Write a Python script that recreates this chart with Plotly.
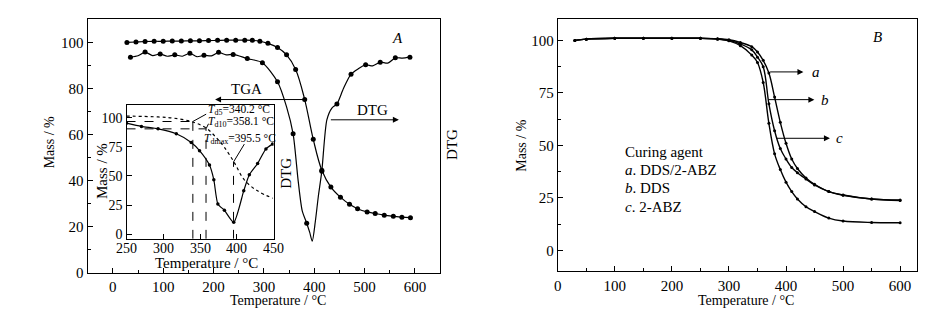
import plotly.graph_objects as go

FONT = "Liberation Serif"

# ---------------- Panel A (main) ----------------
tga_x = [28, 46, 64, 82, 100, 118, 136, 154, 172, 190, 208, 226, 244, 262, 277, 292, 308, 327, 345, 363, 381, 398, 415, 433, 452, 470, 486, 505, 521, 539, 557, 574, 591]
tga_y = [100.0, 100.2, 100.4, 100.5, 100.5, 100.6, 100.6, 100.7, 100.7, 100.8, 100.9, 101.0, 101.0, 101.0, 100.9, 100.5, 99.6, 97.8, 94.6, 88.3, 75.2, 57.9, 44.5, 37.2, 32.8, 29.7, 27.8, 26.4, 25.7, 25.0, 24.5, 24.1, 23.9]

dtg_mk_x = [35, 64, 94, 123, 153, 181, 210, 239, 267, 297, 327, 358, 385, 415, 445, 473, 502, 531, 561, 590]
dtg_mk_y = [93.6, 95.8, 95.0, 94.6, 95.3, 94.4, 95.7, 94.8, 93.0, 91.2, 82.9, 60.3, 21.5, 44.1, 73.3, 86.2, 90.3, 91.4, 93.3, 93.6]

dtg_line_x = [35, 50, 64, 79, 94, 108, 123, 138, 153, 167, 181, 196, 210, 225, 239, 267, 297, 327, 345, 358, 368, 376, 385, 391, 396, 402, 408, 415, 425, 435, 445, 458, 473, 487, 502, 516, 531, 546, 561, 575, 590]
dtg_line_y = [93.6, 94.2, 95.8, 94.3, 95.0, 94.0, 94.6, 94.0, 95.3, 93.8, 94.4, 94.2, 95.7, 94.6, 94.8, 93.0, 91.2, 82.9, 72.0, 60.3, 40.0, 27.0, 21.5, 17.5, 13.7, 22.0, 33.0, 44.1, 66.4, 71.5, 73.3, 80.0, 86.2, 88.5, 90.3, 89.8, 91.4, 91.0, 93.3, 93.2, 93.6]

# ---------------- Inset ----------------
ins_tga_x = [250, 293, 315, 338, 358, 374, 383, 396, 410, 428, 449]
ins_tga_y = [101.4, 100.6, 99.5, 96.7, 91.2, 81.5, 74.6, 62.1, 46.8, 37.2, 30.8]

ins_dtg_x = [250, 270.3, 292.9, 317.7, 338, 349.3, 362.8, 368.7, 374.2, 383.1, 395.8, 409.4, 417, 428.3, 439.6, 448.6]
ins_dtg_y = [95.3, 92.5, 90.4, 86.2, 78.7, 71.7, 59.3, 46.8, 26.0, 20.5, 10.2, 37.2, 51.0, 60.7, 73.2, 77.3]

ins_xticks = [250, 300, 350, 400, 450]

td_temps = [340.2, 358.1, 395.5]
td_mass = [96.7, 90.4, 62.0]
td_labels = ["<i>T</i><sub>d5</sub>=340.2 °C", "<i>T</i><sub>d10</sub>=358.1 °C", "<i>T</i><sub>dmax</sub>=395.5 °C"]

# ---------------- Panel B ----------------
b_x = [30, 50, 100, 150, 200, 250, 280, 300, 320, 340, 350, 360, 370, 380, 390, 400, 410, 420, 435, 450, 475, 500, 550, 600]
b_a = [100, 100.6, 101, 101, 101, 101, 100.8, 100.3, 99.0, 97.0, 94.5, 90.5, 84.5, 73.0, 61.0, 51.0, 43.5, 39.0, 34.5, 31.5, 28.0, 26.3, 24.5, 24.0]
b_b = [100, 100.6, 101, 101, 101, 101, 100.7, 100.0, 98.3, 95.5, 92.0, 87.5, 69.8, 57.0, 48.5, 43.5, 39.5, 37.0, 34.0, 31.2, 28.0, 26.4, 24.5, 23.8]
b_c = [100, 100.6, 101, 101, 101, 101, 100.6, 99.8, 97.5, 93.0, 89.5, 80.0, 60.5, 46.0, 38.5, 32.5, 28.0, 24.5, 20.8, 18.5, 15.4, 14.0, 13.3, 13.2]
b_names = ["a", "b", "c"]
legend_lines = ["Curing agent", "<i>a</i>. DDS/2-ABZ", "<i>b</i>. DDS", "<i>c</i>. 2-ABZ"]

fig = go.Figure()
blk = "black"

# Panel A traces
fig.add_trace(go.Scatter(x=tga_x, y=tga_y, mode="lines+markers", line=dict(color=blk, width=1.2, shape="spline"),
                         marker=dict(size=5, color=blk), xaxis="x", yaxis="y", showlegend=False))
fig.add_trace(go.Scatter(x=dtg_line_x, y=dtg_line_y, mode="lines", line=dict(color=blk, width=1.2, shape="spline", smoothing=0.7),
                         xaxis="x", yaxis="y", showlegend=False))
fig.add_trace(go.Scatter(x=dtg_mk_x, y=dtg_mk_y, mode="markers", marker=dict(size=5, color=blk),
                         xaxis="x", yaxis="y", showlegend=False))

# Inset traces
fig.add_trace(go.Scatter(x=ins_tga_x, y=ins_tga_y, mode="lines", line=dict(color=blk, width=1.2, dash="dot", shape="spline"),
                         xaxis="x3", yaxis="y3", showlegend=False))
fig.add_trace(go.Scatter(x=ins_dtg_x, y=ins_dtg_y, mode="lines+markers", line=dict(color=blk, width=1.2, shape="spline", smoothing=0.6),
                         marker=dict(size=3.5, color=blk), xaxis="x3", yaxis="y3", showlegend=False))

# Panel B traces
for ys in (b_a, b_b, b_c):
    fig.add_trace(go.Scatter(x=b_x, y=ys, mode="lines+markers", line=dict(color=blk, width=1.4, shape="spline"),
                             marker=dict(size=3, color=blk), xaxis="x2", yaxis="y2", showlegend=False))

tickfont = dict(family=FONT, size=15, color=blk)
axcommon = dict(showline=True, linecolor=blk, linewidth=1.2, mirror=True, ticks="inside", tickcolor=blk,
                ticklen=5, showgrid=False, zeroline=False, tickfont=tickfont)

fig.update_layout(
    width=945, height=325, margin=dict(l=0, r=0, t=0, b=0),
    paper_bgcolor="white", plot_bgcolor="white",
    xaxis=dict(axcommon, domain=[0.0804, 0.455], range=[-50, 650], tickvals=[0, 100, 200, 300, 400, 500, 600],
               minor=dict(ticks="inside", tickvals=[50, 150, 250, 350, 450, 550], ticklen=3, tickcolor=blk), anchor="y"),
    yaxis=dict(axcommon, domain=[0.165, 0.964], range=[0, 110], tickvals=[0, 20, 40, 60, 80, 100],
               minor=dict(ticks="inside", tickvals=[10, 30, 50, 70, 90], ticklen=3, tickcolor=blk), anchor="x"),
    xaxis2=dict(axcommon, domain=[0.580, 0.962], range=[0, 630], tickvals=[0, 100, 200, 300, 400, 500, 600],
                minor=dict(ticks="inside", tickvals=[50, 150, 250, 350, 450, 550], ticklen=3, tickcolor=blk), anchor="y2"),
    yaxis2=dict(axcommon, domain=[0.169, 0.964], range=[-10, 110], tickvals=[0, 25, 50, 75, 100],
                minor=dict(ticks="inside", tickvals=[12.5, 37.5, 62.5, 87.5], ticklen=3, tickcolor=blk), anchor="x2"),
    xaxis3=dict(axcommon, domain=[0.1217, 0.278], range=[250, 450], tickvals=ins_xticks, showticklabels=False, anchor="y3"),
    yaxis3=dict(axcommon, domain=[0.2717, 0.6945], range=[-4, 111], tickvals=[0, 25, 50, 75, 100],
                tickfont=dict(family=FONT, size=14, color=blk), anchor="x3"),
)

ann = []
def txt(text, x, y, xref, yref, size=14, angle=0, xanchor="center", yanchor="middle"):
    ann.append(dict(text=text, x=x, y=y, xref=xref, yref=yref, showarrow=False, textangle=angle,
                    xanchor=xanchor, yanchor=yanchor, font=dict(family=FONT, size=size, color=blk)))

def arrow(x0, y0, x1, y1, xr, yr):
    ann.append(dict(x=x1, y=y1, ax=x0, ay=y0, xref=xr, yref=yr, axref=xr, ayref=yr, text="",
                    showarrow=True, arrowhead=2, arrowsize=1.2, arrowwidth=1, arrowcolor=blk))

# Axis titles
txt("Temperature / °C", 0.2825, 0.077, "paper", "paper")
txt("Mass / %", 0.040, 0.575, "paper", "paper", angle=-90)
txt("DTG", 0.467, 0.569, "paper", "paper", size=15, angle=-90)
txt("Temperature / °C", 0.780, 0.077, "paper", "paper")
txt("Mass / %", 0.5415, 0.564, "paper", "paper", angle=-90)
txt("Temperature / °C", 0.2063, 0.195, "paper", "paper", size=15)
txt("Mass / %", 0.095, 0.487, "paper", "paper", size=15, angle=-90)

# Inset x tick labels
for t in ins_xticks:
    txt(str(t), t, 0.240, "x3", "paper", size=14)

# Panel A labels
txt("<i>A</i>", 565, 102, "x", "y", size=15)
txt("TGA", 265, 79.8, "x", "y", size=15)
arrow(381, 75.2, 203, 75.2, "x", "y")
txt("DTG", 516, 70.6, "x", "y", size=15)
arrow(430, 66.4, 568, 66.4, "x", "y")
txt("DTG", 344, 43, "x", "y", size=15, angle=-90)

# Inset T labels
txt(td_labels[0], 358, 107.0, "x3", "y3", size=11.5, xanchor="left")
txt(td_labels[1], 358, 96.2, "x3", "y3", size=11.5, xanchor="left")
txt(td_labels[2], 352, 81.5, "x3", "y3", size=11.5, xanchor="left")

# Panel B labels
txt("<i>B</i>", 561, 101.5, "x2", "y2", size=15)
arrow_y = [85, 71.8, 53.4]
arrow_x0 = [369.5, 366.5, 380]
arrow_x1 = [430.5, 449.7, 477]
label_x = [452, 468.4, 494.6]
for i, nm in enumerate(b_names):
    arrow(arrow_x0[i], arrow_y[i], arrow_x1[i], arrow_y[i], "x2", "y2")
    txt("<i>%s</i>" % nm, label_x[i], arrow_y[i], "x2", "y2", size=15)
leg_y = [46.9, 38.2, 29.7, 20.8]
for t, yy in zip(legend_lines, leg_y):
    txt(t, 115, yy, "x2", "y2", size=15, xanchor="left")

fig.update_layout(annotations=ann)

# Inset dashed guide lines and leader lines
shapes = []
for t, m in zip(td_temps, td_mass):
    shapes.append(dict(type="line", xref="x3", yref="y3", x0=t, x1=t, y0=-4, y1=m, line=dict(color=blk, width=1, dash="dash")))
for t, m in zip(td_temps[:2], td_mass[:2]):
    shapes.append(dict(type="line", xref="x3", yref="y3", x0=250, x1=t, y0=m, y1=m, line=dict(color=blk, width=1, dash="dash")))
leader_end_x = [358.3, 361.5, 410.2]
leader_end_y = [103, 94.8, 77.3]
for t, m, ex, ey in zip(td_temps, td_mass, leader_end_x, leader_end_y):
    shapes.append(dict(type="line", xref="x3", yref="y3", x0=t, x1=ex, y0=m, y1=ey, line=dict(color=blk, width=1)))
fig.update_layout(shapes=shapes)

fig.write_html("out.html")
